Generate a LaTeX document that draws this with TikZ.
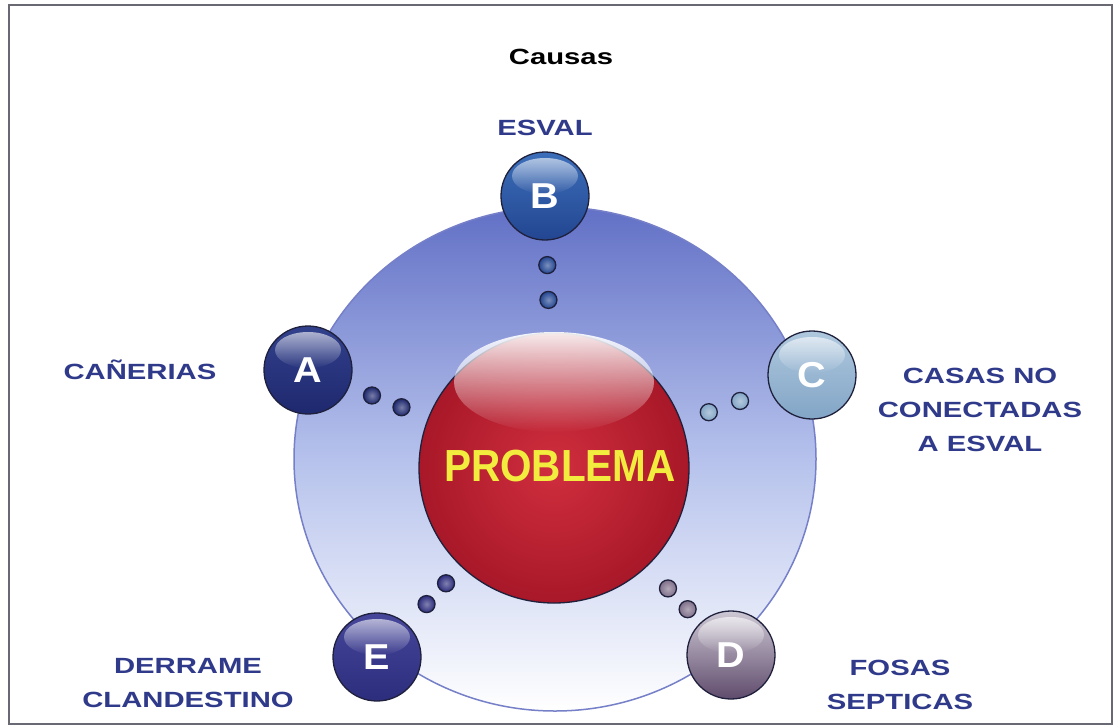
\documentclass[tikz,border=0pt]{standalone}
\usepackage{fontspec}
\setmainfont{Liberation Sans}
\newfontfamily\widefont[FakeStretch=1.33]{Liberation Sans}
\newfontfamily\probfont[FakeStretch=0.9]{Liberation Sans}
\newfontfamily\letterfont[FakeStretch=1.1]{Liberation Sans}
\usetikzlibrary{fadings,shapes.geometric}
\definecolor{lbl}{RGB}{48,58,138}
\definecolor{ballline}{RGB}{30,32,60}
\definecolor{framegray}{RGB}{105,105,115}
\definecolor{ringline}{RGB}{118,128,200}
\definecolor{ringtop}{RGB}{98,112,198}
\definecolor{ringmid}{RGB}{182,194,236}
\definecolor{probyellow}{RGB}{242,236,62}
\definecolor{redin}{RGB}{208,46,62}
\definecolor{redout}{RGB}{168,24,40}
\definecolor{bTop}{RGB}{60,110,185}\definecolor{bBot}{RGB}{35,70,145}
\definecolor{aTop}{RGB}{50,65,140}\definecolor{aBot}{RGB}{30,40,110}
\definecolor{cTop}{RGB}{175,200,222}\definecolor{cBot}{RGB}{130,165,198}
\definecolor{eTop}{RGB}{70,70,155}\definecolor{eBot}{RGB}{45,45,125}
\definecolor{dTop}{RGB}{205,200,212}\definecolor{dBot}{RGB}{95,75,108}
\tikzfading[name=hlfade, top color=transparent!0, bottom color=transparent!100]
\tikzset{
  ballnode/.style={circle, draw=ballline, line width=1.3pt, minimum size=88pt, inner sep=0pt},
  balltext/.style={text=white, font=\letterfont\fontsize{36}{36}\selectfont\bfseries},
  dotnode/.style={circle, draw=ballline, line width=1.3pt, minimum size=17pt, inner sep=0pt},
  lbltext/.style={text=lbl, font=\widefont\fontsize{22}{34}\selectfont\bfseries, align=center},
}
\newcommand\mkball[5]{%
  \node[ballnode, top color=#4, bottom color=#5] (#1) at (#2) {};
  \fill[white, path fading=hlfade, opacity=0.6] ([yshift=20pt]#1.center) ellipse (33pt and 18pt);
  \node[balltext] (#1t) at (#1.center) {#3};
}
\newcommand\mkdots[4]{%
  \path (#1.center) -- (P.center)
    node[dotnode, inner color=#2!60!white, outer color=#2, pos=#3] (#1d1) {}
    node[dotnode, inner color=#2!60!white, outer color=#2, pos=#4] (#1d2) {};
}
\begin{document}
\begin{tikzpicture}[x=1pt,y=-1pt]
\useasboundingbox (0,0) rectangle (1114,726);
\fill[white] (0,0) rectangle (1114,726);
\draw[framegray, line width=2pt] (9,5) rectangle (1112,724);
% ring
\node[ellipse, draw=ringline, line width=1.5pt, minimum width=522pt, minimum height=504pt,
      top color=ringtop, bottom color=white, middle color=ringmid] (ring) at (555,459) {};
% center ball
\node[circle, draw=ballline, line width=1.3pt, minimum size=270pt, inner sep=0pt,
      inner color=redin, outer color=redout] (P) at (554,468) {};
\fill[white, path fading=hlfade, opacity=0.92] (554,382) ellipse (100pt and 50pt);
\node[text=probyellow, font=\probfont\fontsize{45}{45}\selectfont\bfseries] (Pt) at (560,466) {PROBLEMA};
% balls
\mkball{B}{545,196}{B}{bTop}{bBot}
\mkball{A}{308,370}{A}{aTop}{aBot}
\mkball{C}{812,375}{C}{cTop}{cBot}
\mkball{E}{377,657}{E}{eTop}{eBot}
\mkball{D}{731,655}{D}{dTop}{dBot}
% dots
\mkdots{B}{bBot}{0.254}{0.382}
\mkdots{A}{aBot}{0.26}{0.38}
\mkdots{C}{cBot}{0.279}{0.40}
\mkdots{E}{eBot}{0.28}{0.39}
\mkdots{D}{dBot!80!white}{0.245}{0.356}
% labels
\node[font=\widefont\fontsize{22}{26}\selectfont\bfseries, text=black] (title) at (561,57) {Causas};
\node[lbltext] (lB) at (545,128) {ESVAL};
\node[lbltext] (lA) at (140,370) {CAÑERIAS};
\node[lbltext] (lC) at (980,410) {CASAS NO\\CONECTADAS\\A ESVAL};
\node[lbltext] (lE) at (188,683) {DERRAME\\CLANDESTINO};
\node[lbltext] (lD) at (900,685) {FOSAS\\SEPTICAS};
\end{tikzpicture}
\end{document}
